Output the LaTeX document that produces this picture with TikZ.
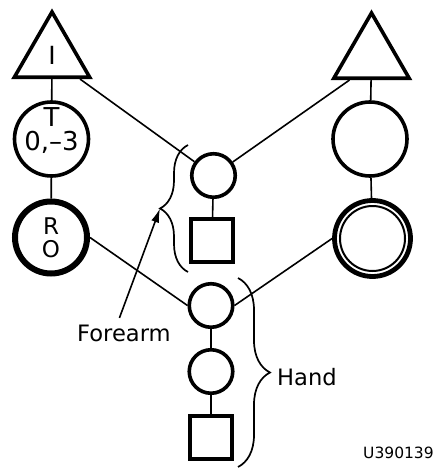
\documentclass[tikz,border=0pt]{standalone}
\usepackage{fontspec}
\setmainfont{DejaVu Sans}
\usetikzlibrary{shapes.geometric,decorations.pathreplacing,arrows.meta,calc}
\begin{document}
\begin{tikzpicture}[x=1pt,y=-1pt,
  outl/.style={draw, line width=3.6pt, inner sep=0pt},
  tri/.style={outl, regular polygon, regular polygon sides=3, minimum size=87pt},
  circ/.style={outl, circle, minimum size=74pt},
  smallc/.style={outl, circle, minimum size=43.5pt},
  sq/.style={outl, rectangle, minimum size=42.5pt},
  conn/.style={line width=1.6pt},
  br/.style={line width=1.7pt, decorate, decoration={brace, amplitude=#1}},
  lab/.style={font=\fontsize{22.6}{24}\selectfont, inner sep=0pt}
]
\useasboundingbox (0,0) rectangle (436,468);
% left column
\node[tri] (tl) at (52,55.5) {\fontsize{25}{25}\selectfont I};
\node[circ] (c1) at (51.5,139) {};
\node[font=\fontsize{26}{24}\selectfont, align=center, inner sep=0pt] (c1t) at (51.5,131) {T\\0,–3};
\node[circ, line width=6pt, minimum size=72pt, font=\fontsize{23}{23}\selectfont, align=center] (c2) at (51,237.5) {R\\O};
% right column
\node[tri] (tr) at (371.5,56.5) {};
\node[circ] (r1) at (370,139) {};
\node[circ, line width=4.8pt, minimum size=76pt] (r2) at (372.5,238.5) {};
\draw[line width=2pt] (r2.center) circle[radius=32.5pt];
% middle
\node[smallc] (m1) at (213.5,175.5) {};
\node[sq] (s1) at (212,240.5) {};
\node[smallc] (h1) at (211,305.5) {};
\node[smallc] (h2) at (211,371.5) {};
\node[sq] (s2) at (211,437.5) {};
% connectors
\draw[conn] (tl) -- (c1);
\draw[conn] (c1) -- (c2);
\draw[conn] (tr) -- (r1);
\draw[conn] (r1) -- (r2);
\draw[conn] (m1) -- (s1);
\draw[conn] (h1) -- (h2);
\draw[conn] (h2) -- (s2);
\draw[conn] ($(tl.south)+(28,0)$) -- (m1);
\draw[conn] ($(tr.south)+(-22,0)$) -- (m1);
\draw[conn] (c2.east) -- (h1.west);
\draw[conn] (r2.west) -- (h1.east);
% braces
\coordinate (fb1) at (188,272);
\coordinate (fb2) at (188,145);
\coordinate (fbtip) at (160,208.5);
\draw[br=28pt] (fb1) -- (fb2);
\coordinate (hb1) at (238,278);
\coordinate (hb2) at (238,467);
\draw[br=32pt] (hb1) -- (hb2);
% labels
\node[lab, anchor=west] (fa) at (77,333) {Forearm};
\draw[conn, -{Latex[length=14pt,width=8pt]}] ($(fa.north)+(-4.5,-6.5)$) -- (fbtip);
\node[lab, anchor=west] (hand) at (277,377) {Hand};
\node[font=\fontsize{15.5}{16}\selectfont, anchor=west, inner sep=0pt] (code) at (363,452.5) {U390139};
\end{tikzpicture}
\end{document}
